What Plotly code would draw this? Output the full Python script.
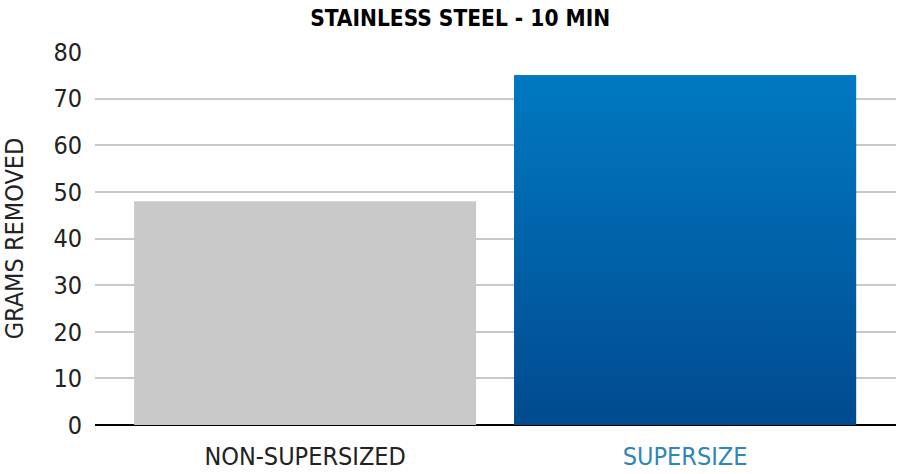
import plotly.graph_objects as go

categories = ["NON-SUPERSIZED", "SUPERSIZE"]
values = [48, 75]
tick_vals_y = [0, 10, 20, 30, 40, 50, 60, 70, 80]
title_text = "STAINLESS STEEL - 10 MIN"
y_title = "GRAMS REMOVED"

FONT = "DejaVu Sans Condensed, Liberation Sans Narrow, sans-serif"
bar_w = 0.9
xs = list(range(len(categories)))

fig = go.Figure()
fig.add_trace(go.Bar(
    x=xs, y=values, width=bar_w,
    marker=dict(color=["#c8c8c9", "#0a62a8"], line=dict(width=0)),
    hoverinfo="skip", showlegend=False,
))
# gradient overlay for the SUPERSIZE bar
i = 1
fig.add_trace(go.Scatter(
    x=[xs[i] - bar_w / 2, xs[i] + bar_w / 2], y=[values[i], values[i]],
    mode="lines", line=dict(width=0), fill="tozeroy",
    fillgradient=dict(type="vertical",
                      colorscale=[[0, "#014a8f"], [1, "#0079c2"]]),
    hoverinfo="skip", showlegend=False,
))

ticktext = [categories[0],
            '<span style="color:#2f86b8">' + categories[1] + '</span>']

fig.update_layout(
    width=897, height=474,
    margin=dict(l=95, r=1, t=52, b=49),
    paper_bgcolor="white", plot_bgcolor="white",
    font=dict(family=FONT, color="#222222"),
    title=dict(text="<b>" + title_text + "</b>", x=0.513, xanchor="center",
               y=0.979, yanchor="top",
               font=dict(family=FONT, size=22.5, color="#000000")),
    xaxis=dict(range=[-0.553, 1.555], tickvals=xs, ticktext=ticktext,
               tickfont=dict(size=25, color="#222222"), showgrid=False,
               zeroline=False, showline=False, ticks="",
               ticklabelstandoff=14),
    yaxis=dict(range=[0, 80], tickvals=tick_vals_y, showgrid=True,
               gridcolor="#c8c8c8", gridwidth=1.5,
               zeroline=True, zerolinecolor="#000000", zerolinewidth=1.5,
               tickfont=dict(size=25, color="#222222"),
               ticklabelstandoff=12,
               title=dict(text=y_title, font=dict(size=25, color="#222222"),
                          standoff=23)),
)
fig.write_html("out.html")
